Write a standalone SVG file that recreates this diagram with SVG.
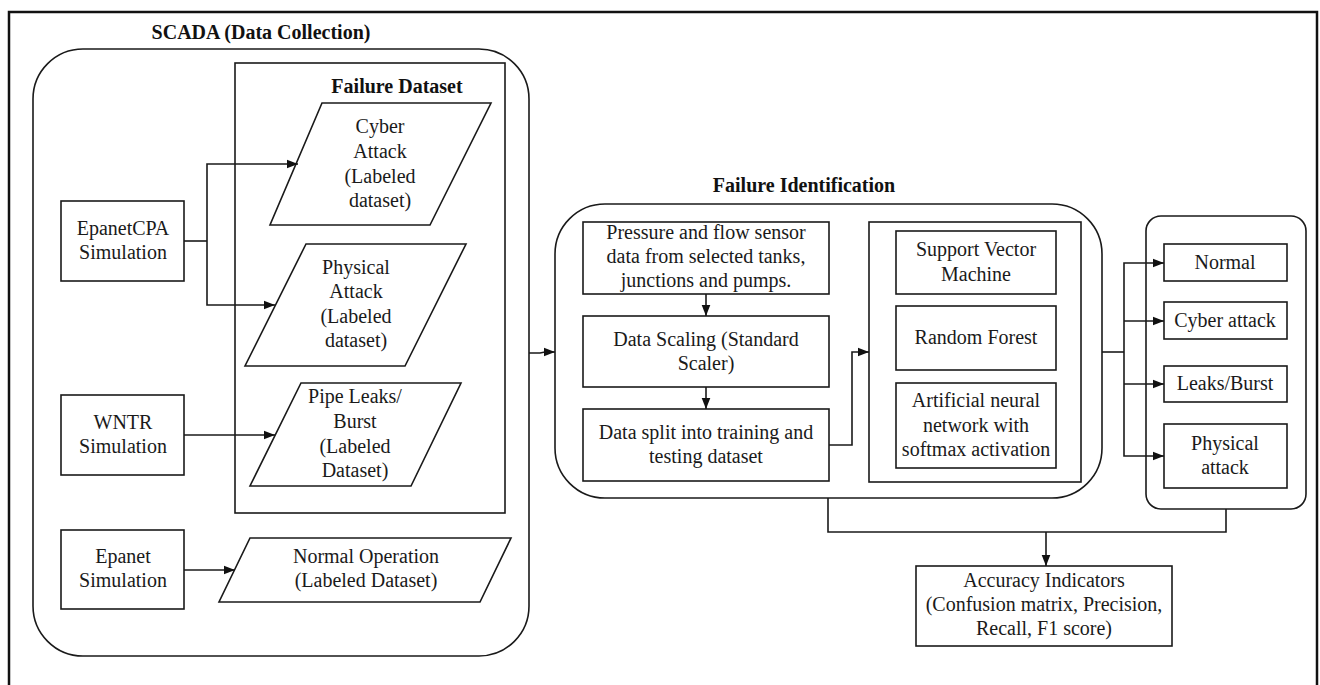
<svg xmlns="http://www.w3.org/2000/svg" width="1320" height="685" viewBox="0 0 1320 685">
<defs>
<style>
.bx{fill:none;stroke:#1a1a1a;stroke-width:1.6}
.fr{fill:none;stroke:#111;stroke-width:2.5}
.ln{fill:none;stroke:#1a1a1a;stroke-width:1.6}
.t{font-family:"Liberation Serif","Times New Roman",serif;font-size:20px;fill:#1a1a1a;text-anchor:middle}
.h{font-family:"Liberation Serif","Times New Roman",serif;font-size:20px;font-weight:bold;fill:#111;text-anchor:middle}
</style>
<marker id="ah" markerWidth="12" markerHeight="10" refX="11.5" refY="5" orient="auto" markerUnits="userSpaceOnUse">
<path d="M0,0.5 L11.5,5 L0,9.5 z" fill="#111"/>
</marker>
</defs>
<rect x="0" y="0" width="1320" height="685" fill="#fff"/>
<rect class="fr" x="9" y="12" width="1308" height="690"/>

<g id="scada">
<rect class="bx" x="33" y="49" width="496" height="607" rx="50" ry="50"/>
<text class="h" x="261" y="39">SCADA (Data Collection)</text>
</g>
<g id="failure-dataset">
<rect class="bx" x="235" y="63" width="270" height="450"/>
<text class="h" x="397" y="93">Failure Dataset</text>
</g>
<g id="epanetcpa">
<rect class="bx" x="61" y="201" width="123" height="80"/>
<text class="t" x="123" y="235">EpanetCPA</text>
<text class="t" x="123" y="259">Simulation</text>
</g>
<g id="wntr">
<rect class="bx" x="61" y="395" width="123" height="80"/>
<text class="t" x="123" y="429">WNTR</text>
<text class="t" x="123" y="453">Simulation</text>
</g>
<g id="epanet">
<rect class="bx" x="61" y="530" width="123" height="79"/>
<text class="t" x="123" y="563">Epanet</text>
<text class="t" x="123" y="587">Simulation</text>
</g>
<g id="cyber-ds">
<polygon class="bx" points="322,103 491,103 430,225 270,225"/>
<text class="t" x="380" y="133">Cyber</text>
<text class="t" x="380" y="158">Attack</text>
<text class="t" x="380" y="183">(Labeled</text>
<text class="t" x="380" y="207">dataset)</text>
</g>
<g id="physical-ds">
<polygon class="bx" points="306,244 466,244 405,366 245,366"/>
<text class="t" x="356" y="274">Physical</text>
<text class="t" x="356" y="298">Attack</text>
<text class="t" x="356" y="323">(Labeled</text>
<text class="t" x="356" y="347">dataset)</text>
</g>
<g id="pipe-ds">
<polygon class="bx" points="301,383 461,383 411,486 250,486"/>
<text class="t" x="355" y="403">Pipe Leaks/</text>
<text class="t" x="355" y="428">Burst</text>
<text class="t" x="355" y="453">(Labeled</text>
<text class="t" x="355" y="477">Dataset)</text>
</g>
<g id="normal-ds">
<polygon class="bx" points="250,538 511,538 480,602 219,602"/>
<text class="t" x="366" y="563">Normal Operation</text>
<text class="t" x="366" y="587">(Labeled Dataset)</text>
</g>

<g id="failure-identification">
<rect class="bx" x="555" y="204" width="547" height="294" rx="50" ry="50"/>
<text class="h" x="804" y="192">Failure Identification</text>
</g>
<g id="sensor-data">
<rect class="bx" x="583" y="222" width="246" height="72"/>
<text class="t" x="706" y="239">Pressure and flow sensor</text>
<text class="t" x="706" y="263">data from selected tanks,</text>
<text class="t" x="706" y="287">junctions and pumps.</text>
</g>
<g id="scaling">
<rect class="bx" x="583" y="316" width="246" height="71"/>
<text class="t" x="706" y="346">Data Scaling (Standard</text>
<text class="t" x="706" y="370">Scaler)</text>
</g>
<g id="split">
<rect class="bx" x="583" y="409" width="246" height="72"/>
<text class="t" x="706" y="439">Data split into training and</text>
<text class="t" x="706" y="463">testing dataset</text>
</g>
<g id="classifiers">
<rect class="bx" x="869" y="222" width="212" height="260"/>
</g>
<g id="svm">
<rect class="bx" x="896" y="231" width="160" height="63"/>
<text class="t" x="976" y="256">Support Vector</text>
<text class="t" x="976" y="281">Machine</text>
</g>
<g id="rf">
<rect class="bx" x="896" y="306" width="160" height="64"/>
<text class="t" x="976" y="344">Random Forest</text>
</g>
<g id="ann">
<rect class="bx" x="896" y="383" width="160" height="85"/>
<text class="t" x="976" y="407">Artificial neural</text>
<text class="t" x="976" y="432">network with</text>
<text class="t" x="976" y="456">softmax activation</text>
</g>

<g id="outputs">
<rect class="bx" x="1146" y="216" width="160" height="293" rx="15" ry="15"/>
</g>
<g id="out-normal">
<rect class="bx" x="1164" y="244" width="123" height="37"/>
<text class="t" x="1225" y="269">Normal</text>
</g>
<g id="out-cyber">
<rect class="bx" x="1164" y="302" width="123" height="37"/>
<text class="t" x="1225" y="327">Cyber attack</text>
</g>
<g id="out-leaks">
<rect class="bx" x="1164" y="366" width="123" height="36"/>
<text class="t" x="1225" y="390">Leaks/Burst</text>
</g>
<g id="out-physical">
<rect class="bx" x="1164" y="424" width="123" height="64"/>
<text class="t" x="1225" y="450">Physical</text>
<text class="t" x="1225" y="474">attack</text>
</g>
<g id="accuracy">
<rect class="bx" x="916" y="566" width="256" height="80"/>
<text class="t" x="1044" y="587">Accuracy Indicators</text>
<text class="t" x="1044" y="611">(Confusion matrix, Precision,</text>
<text class="t" x="1044" y="635">Recall, F1 score)</text>
</g>

<g id="connectors">
<polyline class="ln" points="184,241 207,241"/>
<polyline class="ln" points="207,241 207,164 298,164" marker-end="url(#ah)"/>
<polyline class="ln" points="207,241 207,305 275,305" marker-end="url(#ah)"/>
<polyline class="ln" points="184,435 275,435" marker-end="url(#ah)"/>
<polyline class="ln" points="184,570 235,570" marker-end="url(#ah)"/>
<polyline class="ln" points="529,353 540,353 545,352 555,352" marker-end="url(#ah)"/>
<polyline class="ln" points="706,294 706,316" marker-end="url(#ah)"/>
<polyline class="ln" points="706,387 706,409" marker-end="url(#ah)"/>
<polyline class="ln" points="829,445 852,445 852,352 869,352" marker-end="url(#ah)"/>
<polyline class="ln" points="1102,352 1124,352"/>
<polyline class="ln" points="1124,352 1124,263 1164,263" marker-end="url(#ah)"/>
<polyline class="ln" points="1124,321 1164,321" marker-end="url(#ah)"/>
<polyline class="ln" points="1124,384 1164,384" marker-end="url(#ah)"/>
<polyline class="ln" points="1124,352 1124,456 1164,456" marker-end="url(#ah)"/>
<polyline class="ln" points="828,498 828,532 1226,532 1226,509"/>
<polyline class="ln" points="1046,532 1046,566" marker-end="url(#ah)"/>
</g>
</svg>
